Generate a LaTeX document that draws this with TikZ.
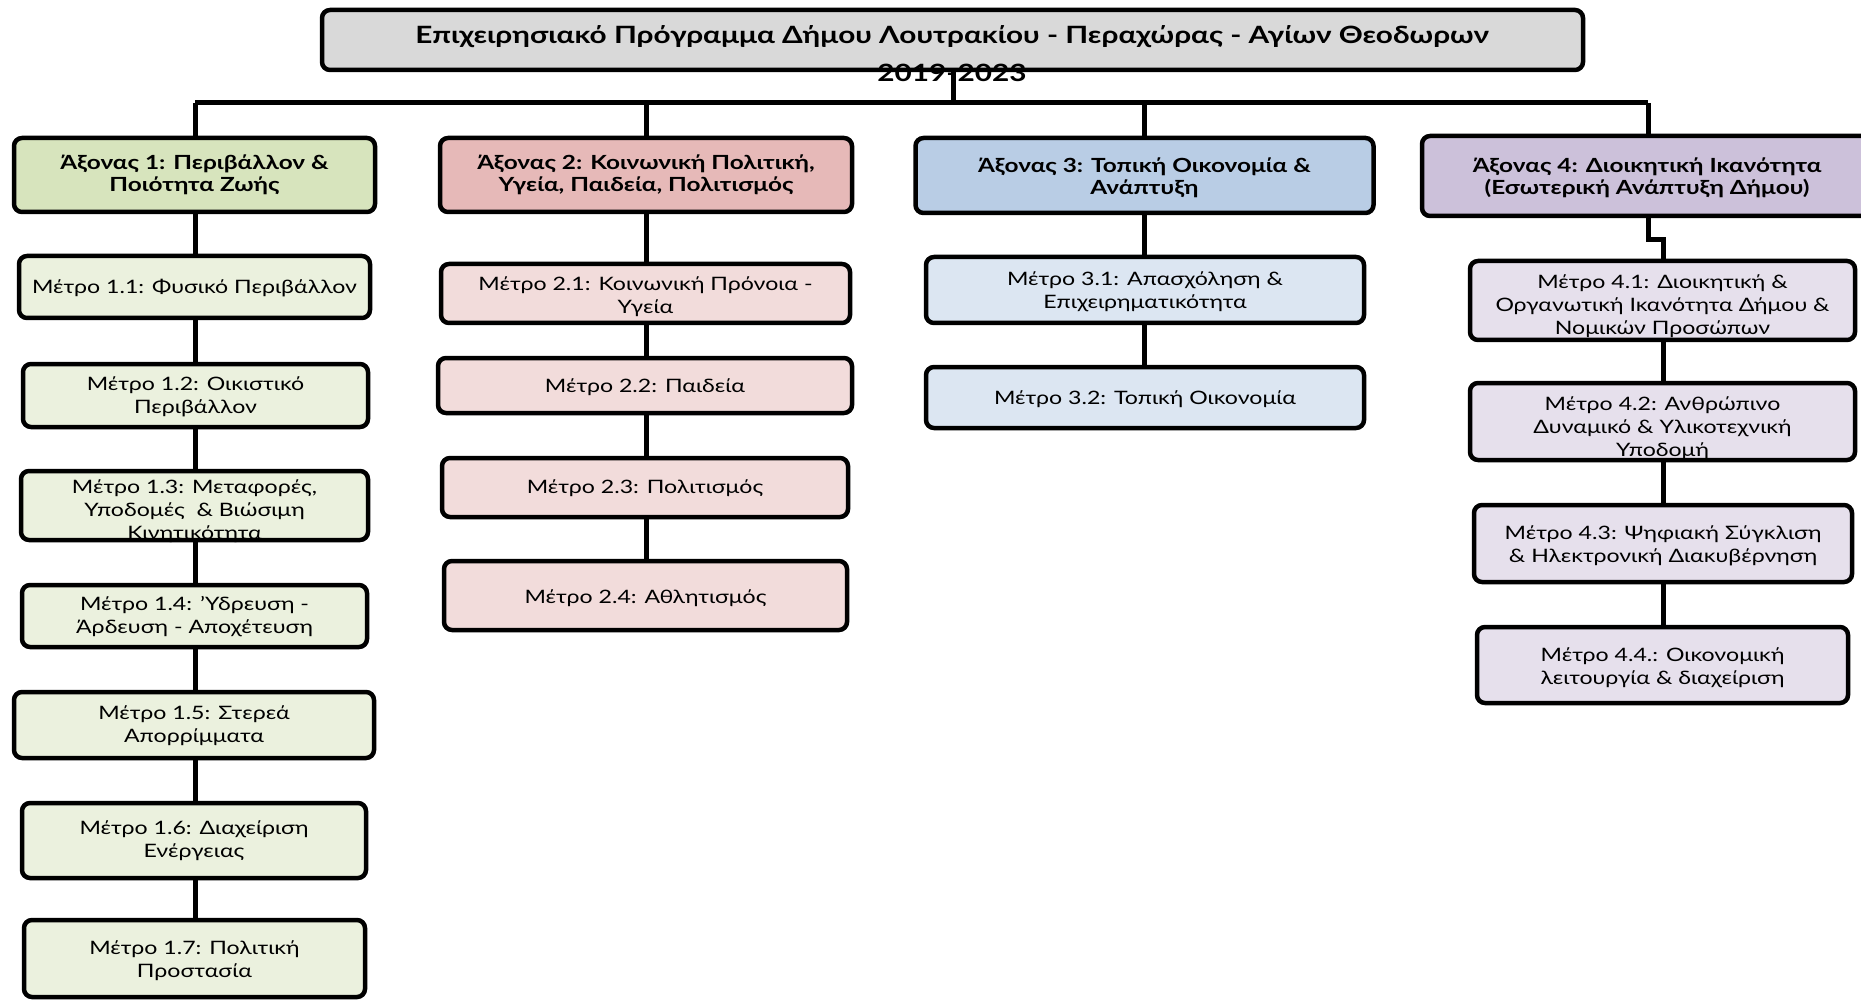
\documentclass[tikz,border=0pt]{standalone}
\usepackage{fontspec}
\setmainfont{Lato}[FakeStretch=1.25]
\definecolor{titlefill}{HTML}{D9D9D9}
\definecolor{aonefill}{HTML}{D7E4BD}
\definecolor{monefill}{HTML}{EBF1DE}
\definecolor{atwofill}{HTML}{E6B9B8}
\definecolor{mtwofill}{HTML}{F2DCDB}
\definecolor{athreefill}{HTML}{B9CDE5}
\definecolor{mthreefill}{HTML}{DCE6F2}
\definecolor{afourfill}{HTML}{CCC1DA}
\definecolor{mfourfill}{HTML}{E6E0EC}
\tikzset{
  boxbase/.style={draw=black, line width=4.5pt, rounded corners=8pt, inner sep=0pt, anchor=center},
  titlebox/.style={boxbase, fill=titlefill},
  aone/.style={boxbase, fill=aonefill},
  atwo/.style={boxbase, fill=atwofill},
  athree/.style={boxbase, fill=athreefill},
  afour/.style={boxbase, fill=afourfill},
  mone/.style={boxbase, fill=monefill},
  mtwo/.style={boxbase, fill=mtwofill},
  mthree/.style={boxbase, fill=mthreefill},
  mfour/.style={boxbase, fill=mfourfill},
  titletxt/.style={inner sep=0pt, align=center, font=\fontsize{23.8}{38}\selectfont\bfseries},
  axtxt/.style={inner sep=0pt, align=center, font=\fontsize{19.5}{22}\selectfont\bfseries},
  mtxt/.style={inner sep=0pt, align=center, font=\fontsize{18.5}{23}\selectfont},
  conn/.style={draw=black, line width=5pt}
}
\begin{document}
\begin{tikzpicture}[x=1pt, y=-1pt]
\useasboundingbox (0,0) rectangle (1861,1000);
\begin{scope}
\clip (0,0) rectangle (1861,1000);
\coordinate (bus0) at (953,103);
\coordinate (busL) at (195,103);
\coordinate (busR) at (1648,103);
\coordinate (jogA) at (1648,240);
\coordinate (jogB) at (1663,240);

% title
\node[titlebox, minimum width=1261pt, minimum height=60pt] (title) at (952.5,40) {};
% axes
\node[aone, minimum width=361pt, minimum height=74pt] (a1) at (194.5,175) {};
\node[atwo, minimum width=412pt, minimum height=74pt] (a2) at (646,175) {};
\node[athree, minimum width=458pt, minimum height=75pt] (a3) at (1144.5,175.5) {};
\node[afour, minimum width=452pt, minimum height=80pt] (a4) at (1648,176) {};
% column 1
\node[mone, minimum width=351pt, minimum height=62pt] (m11) at (194.5,287) {};
\node[mone, minimum width=345pt, minimum height=63pt] (m12) at (195.5,395.5) {};
\node[mone, minimum width=347pt, minimum height=69pt] (m13) at (194.5,505.5) {};
\node[mone, minimum width=345pt, minimum height=62pt] (m14) at (194.5,616) {};
\node[mone, minimum width=360pt, minimum height=66pt] (m15) at (194,725) {};
\node[mone, minimum width=344pt, minimum height=75pt] (m16) at (194,840.5) {};
\node[mone, minimum width=341pt, minimum height=77pt] (m17) at (194.5,958.5) {};
% column 2
\node[mtwo, minimum width=409pt, minimum height=59pt] (m21) at (645.5,293.5) {};
\node[mtwo, minimum width=414pt, minimum height=55pt] (m22) at (645,385.5) {};
\node[mtwo, minimum width=406pt, minimum height=59pt] (m23) at (645,487.5) {};
\node[mtwo, minimum width=403pt, minimum height=69pt] (m24) at (645.5,595.5) {};
% column 3
\node[mthree, minimum width=438pt, minimum height=66pt] (m31) at (1145,290) {};
\node[mthree, minimum width=438pt, minimum height=61pt] (m32) at (1145,397.5) {};
% column 4
\node[mfour, minimum width=385pt, minimum height=79pt] (m41) at (1662.5,300.5) {};
\node[mfour, minimum width=385pt, minimum height=77pt] (m42) at (1662.5,421.5) {};
\node[mfour, minimum width=378pt, minimum height=77pt] (m43) at (1663,543.5) {};
\node[mfour, minimum width=371pt, minimum height=76pt] (m44) at (1662.5,665) {};

% connectors
\draw[conn] (title.south -| bus0) -- (bus0);
\draw[conn] (busL) -- (busR);
\draw[conn] (busL) -- (a1.north -| busL);
\draw[conn] (a2.north |- bus0) -- (a2.north);
\draw[conn] (a3.north |- bus0) -- (a3.north);
\draw[conn] (busR) -- (a4.north -| busR);
\draw[conn] (a1.south -| busL) -- (m11.north -| busL);
\draw[conn] (m11.south -| busL) -- (m12.north -| busL);
\draw[conn] (m12.south -| busL) -- (m13.north -| busL);
\draw[conn] (m13.south -| busL) -- (m14.north -| busL);
\draw[conn] (m14.south -| busL) -- (m15.north -| busL);
\draw[conn] (m15.south -| busL) -- (m16.north -| busL);
\draw[conn] (m16.south -| busL) -- (m17.north -| busL);
\draw[conn] (a2.south) -- (m21.north -| a2.south);
\draw[conn] (m21.south -| a2.south) -- (m22.north -| a2.south);
\draw[conn] (m22.south -| a2.south) -- (m23.north -| a2.south);
\draw[conn] (m23.south -| a2.south) -- (m24.north -| a2.south);
\draw[conn] (a3.south) -- (m31.north -| a3.south);
\draw[conn] (m31.south -| a3.south) -- (m32.north -| a3.south);
\draw[conn] (a4.south -| jogA) -- (jogA) -- (jogB) -- (m41.north -| jogB);
\draw[conn] (m41.south -| jogB) -- (m42.north -| jogB);
\draw[conn] (m42.south -| jogB) -- (m43.north -| jogB);
\draw[conn] (m43.south -| jogB) -- (m44.north -| jogB);

% texts
\node[titletxt] (titlet) at (952,54) {Επιχειρησιακό Πρόγραμμα Δήμου Λουτρακίου - Περαχώρας - Αγίων Θεοδωρων\\2019-2023};
\node[axtxt] (a1t) at (194.5,175) {Άξονας 1: Περιβάλλον \&\\Ποιότητα Ζωής};
\node[axtxt] (a2t) at (646,175) {Άξονας 2: Κοινωνική Πολιτική,\\Υγεία, Παιδεία, Πολιτισμός};
\node[axtxt] (a3t) at (1144.5,177.5) {Άξονας 3: Τοπική Οικονομία \&\\Ανάπτυξη};
\node[axtxt] (a4t) at (1647,178) {Άξονας 4: Διοικητική Ικανότητα\\(Εσωτερική Ανάπτυξη Δήμου)};
\node[mtxt] (m11t) at (194.5,288) {Μέτρο 1.1: Φυσικό Περιβάλλον};
\node[mtxt] (m12t) at (195.5,396.5) {Μέτρο 1.2: Οικιστικό\\Περιβάλλον};
\node[mtxt] (m13t) at (194.5,511.5) {Μέτρο 1.3: Μεταφορές,\\Υποδομές~~\& Βιώσιμη\\Κινητικότητα};
\node[mtxt] (m14t) at (194.5,617) {Μέτρο 1.4: 'Υδρευση -\\Άρδευση - Αποχέτευση};
\node[mtxt] (m15t) at (194,726) {Μέτρο 1.5: Στερεά\\Απορρίμματα};
\node[mtxt] (m16t) at (194,841) {Μέτρο 1.6: Διαχείριση\\Ενέργειας};
\node[mtxt] (m17t) at (194.5,961) {Μέτρο 1.7: Πολιτική\\Προστασία};
\node[mtxt] (m21t) at (645.5,297) {Μέτρο 2.1: Κοινωνική Πρόνοια -\\Υγεία};
\node[mtxt] (m22t) at (645,387) {Μέτρο 2.2: Παιδεία};
\node[mtxt] (m23t) at (645,488) {Μέτρο 2.3: Πολιτισμός};
\node[mtxt] (m24t) at (645.5,598) {Μέτρο 2.4: Αθλητισμός};
\node[mtxt] (m31t) at (1145,292) {Μέτρο 3.1: Απασχόληση \&\\Επιχειρηματικότητα};
\node[mtxt] (m32t) at (1145,399) {Μέτρο 3.2: Τοπική Οικονομία};
\node[mtxt] (m41t) at (1662.5,306.5) {Μέτρο 4.1: Διοικητική \&\\Οργανωτική Ικανότητα Δήμου \&\\Νομικών Προσώπων};
\node[mtxt] (m42t) at (1662.5,428.5) {Μέτρο 4.2: Ανθρώπινο\\Δυναμικό \& Υλικοτεχνική\\Υποδομή};
\node[mtxt] (m43t) at (1663,545.5) {Μέτρο 4.3: Ψηφιακή Σύγκλιση\\\& Ηλεκτρονική Διακυβέρνηση};
\node[mtxt] (m44t) at (1662.5,667.5) {Μέτρο 4.4.: Οικονομική\\λειτουργία \& διαχείριση};
\end{scope}
\end{tikzpicture}
\end{document}
